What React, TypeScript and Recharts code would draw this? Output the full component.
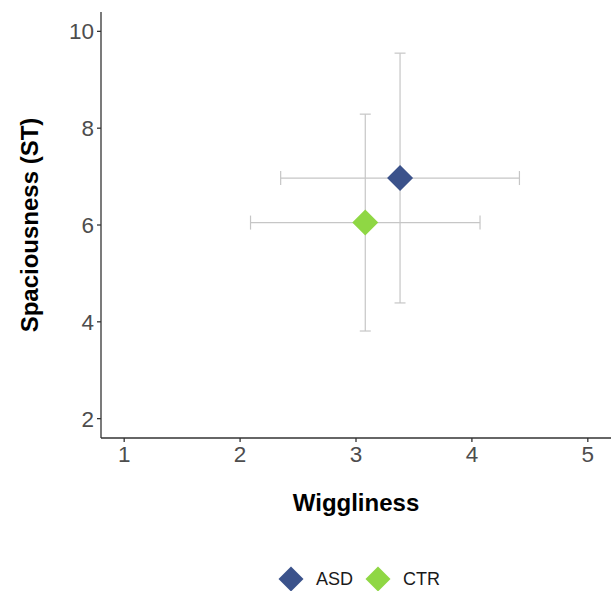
import React from 'react';
import { ScatterChart, Scatter, XAxis, YAxis, ErrorBar, Legend, Label } from 'recharts';

const groups = ['ASD', 'CTR'];
const colors = ['#3b528b', '#8fd744'];
const wiggliness = [3.38, 3.08];
const wigglinessErr = [1.03, 0.99];
const spaciousness = [6.97, 6.05];
const spaciousnessErr = [2.58, 2.24];
const xTicks = [1, 2, 3, 4, 5];
const yTicks = [2, 4, 6, 8, 10];

const series = groups.map((name, i) => ({
  name,
  color: colors[i],
  data: [{ x: wiggliness[i], y: spaciousness[i], ex: wigglinessErr[i], ey: spaciousnessErr[i] }],
}));

const FONT = '"Liberation Sans", Arial, sans-serif';
const AXIS = '#333333';
const TICK = '#4d4d4d';
const ERR = '#c6c6c6';

const Diamond = (props: any) => {
  const { cx, cy, fill } = props;
  const r = 13;
  return (
    <polygon
      points={`${cx},${cy - r} ${cx + r},${cy} ${cx},${cy + r} ${cx - r},${cy}`}
      fill={fill}
    />
  );
};

const LegendContent = () => (
  <div
    style={{
      display: 'flex',
      justifyContent: 'center',
      alignItems: 'center',
      height: 30,
      paddingLeft: 118,
      fontFamily: FONT,
      fontSize: 18,
      color: '#1a1a1a',
    }}
  >
    {groups.map((g, i) => (
      <div
        key={g}
        style={{ display: 'flex', alignItems: 'center', marginRight: 12, position: 'relative', top: 3 }}
      >
        <svg width={26} height={26}>
          <polygon points="13,0.5 25.5,13 13,25.5 0.5,13" fill={colors[i]} />
        </svg>
        <span style={{ marginLeft: 12 }}>{g}</span>
      </div>
    ))}
  </div>
);

export default function App() {
  return (
    <div style={{ position: 'absolute', left: 0, top: 0, background: '#fff' }}>
      <ScatterChart
        width={612}
        height={591}
        margin={{ top: 12, right: 1, left: 0, bottom: 0 }}
        style={{ fontFamily: FONT }}
      >
        <XAxis
          type="number"
          dataKey="x"
          domain={[0.8, 5.2]}
          ticks={xTicks}
          allowDataOverflow
          height={123}
          tickSize={4}
          tickMargin={4}
          axisLine={{ stroke: AXIS, strokeWidth: 1.3 }}
          tickLine={{ stroke: AXIS, strokeWidth: 1.3 }}
          tick={{ fill: TICK, fontSize: 22.5, fontFamily: FONT }}
        >
          <Label
            value="Wiggliness"
            position="insideTop"
            offset={56}
            style={{ fill: '#000', fontSize: 24, fontWeight: 'bold', fontFamily: FONT }}
          />
        </XAxis>
        <YAxis
          type="number"
          dataKey="y"
          domain={[1.6, 10.4]}
          ticks={yTicks}
          allowDataOverflow
          width={101}
          tickSize={4}
          tickMargin={3}
          axisLine={{ stroke: AXIS, strokeWidth: 1.3 }}
          tickLine={{ stroke: AXIS, strokeWidth: 1.3 }}
          tick={{ fill: TICK, fontSize: 22.5, fontFamily: FONT }}
        >
          <Label
            value="Spaciousness (ST)"
            angle={-90}
            position="center"
            dx={-21}
            style={{ fill: '#000', fontSize: 24, fontWeight: 'bold', fontFamily: FONT, textAnchor: 'middle' }}
          />
        </YAxis>
        <Legend verticalAlign="bottom" wrapperStyle={{ left: 0, width: 612, bottom: 0 }} content={<LegendContent />} />
        {series.map((s) => (
          <Scatter
            key={s.name}
            name={s.name}
            data={s.data}
            fill={s.color}
            shape={<Diamond />}
            isAnimationActive={false}
          >
            <ErrorBar dataKey="ex" direction="x" width={7} stroke={ERR} strokeWidth={1.2} isAnimationActive={false} />
            <ErrorBar dataKey="ey" direction="y" width={5.5} stroke={ERR} strokeWidth={1.2} isAnimationActive={false} />
          </Scatter>
        ))}
      </ScatterChart>
    </div>
  );
}
